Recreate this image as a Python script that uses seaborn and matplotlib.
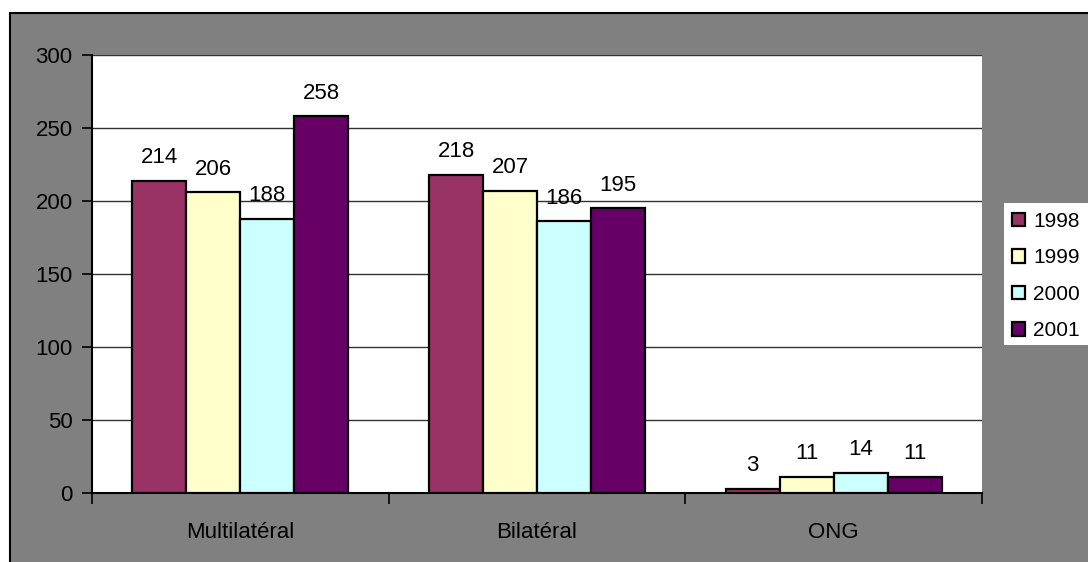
import matplotlib
matplotlib.use("Agg")
import matplotlib.pyplot as plt
from matplotlib.patches import Rectangle, Patch
import seaborn as sns
import pandas as pd

# Aid flows by channel and year
categories = ["Multilatéral", "Bilatéral", "ONG"]
years = ["1998", "1999", "2000", "2001"]
values_1998 = [214, 218, 3]
values_1999 = [206, 207, 11]
values_2000 = [188, 186, 14]
values_2001 = [258, 195, 11]
colors = ["#993366", "#FFFFCC", "#CCFFFF", "#660066"]

series = [values_1998, values_1999, values_2000, values_2001]
df = pd.DataFrame(
    [(cat, yr, vals[i]) for yr, vals in zip(years, series) for i, cat in enumerate(categories)],
    columns=["canal", "annee", "valeur"],
)

sns.set_theme(style="white")
plt.rcParams["font.family"] = ["Liberation Sans", "DejaVu Sans"]
plt.rcParams["text.color"] = "black"

W, H = 1088, 562
fig = plt.figure(figsize=(W / 100, H / 100), dpi=100)
fig.patch.set_facecolor("white")

# Grey chart frame
fig.patches.append(Rectangle((10 / W, -0.05), 1.2, 1 - 13 / H + 0.05,
                             transform=fig.transFigure, facecolor="#808080",
                             edgecolor="black", linewidth=1.5, zorder=-10))
# White legend panel
fig.patches.append(Rectangle((1004 / W, 1 - 345 / H), 0.2, (345 - 203) / H,
                             transform=fig.transFigure, facecolor="white",
                             edgecolor="none", zorder=-5))

ax = fig.add_axes([92 / W, 1 - 493 / H, (982 - 92) / W, (493 - 55) / H])
ax.set_facecolor("white")

sns.barplot(data=df, x="canal", y="valeur", hue="annee", order=categories,
            hue_order=years, palette=colors, width=4 / 5.5, saturation=1,
            edgecolor="black", linewidth=1.6, legend=False, ax=ax, zorder=3)

for cont in ax.containers:
    ax.bar_label(cont, fmt="%d", padding=9, fontsize=16, color="black")

ax.set_ylim(0, 300)
ax.set_xlim(-0.5, 2.5)
ax.set_yticks(range(0, 301, 50))
ax.yaxis.grid(True, color="#333333", linewidth=1.0, zorder=0)
ax.set_axisbelow(True)

ax.set_xlabel("")
ax.set_ylabel("")
ax.tick_params(axis="y", which="major", length=7, width=1.2, color="black",
               labelsize=16, labelcolor="black", pad=7, left=True,
               direction="out")
ax.tick_params(axis="x", which="major", length=0, labelsize=16,
               labelcolor="black", pad=21)
ax.set_xticks([-0.5, 0.5, 1.5, 2.5], minor=True)
ax.tick_params(axis="x", which="minor", length=8, width=1.2, color="black",
               bottom=True, direction="out")

for s in ["top", "right"]:
    ax.spines[s].set_visible(False)
for s in ["left", "bottom"]:
    ax.spines[s].set_color("black")
    ax.spines[s].set_linewidth(1.5)

handles = [Patch(facecolor=c, edgecolor="black", linewidth=1.6) for c in colors]
leg = fig.legend(handles, years, loc="center left",
                 bbox_to_anchor=(1012 / W, 1 - 276 / H), frameon=False,
                 fontsize=15, handlelength=0.62, handleheight=0.62,
                 handletextpad=0.4, labelspacing=0.84,
                 borderpad=0, borderaxespad=0, labelcolor="black")

fig.savefig("out.png", dpi=100, facecolor=fig.get_facecolor())
